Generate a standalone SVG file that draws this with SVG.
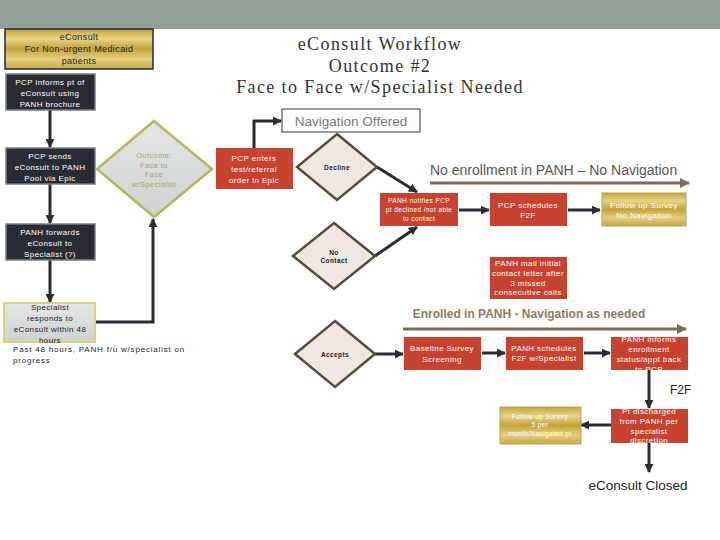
<svg xmlns="http://www.w3.org/2000/svg" width="720" height="540" viewBox="0 0 720 540">
<defs>
<linearGradient id="gold" x1="0" y1="0" x2="0" y2="1">
<stop offset="0" stop-color="#C7A640"/><stop offset="0.25" stop-color="#E6D385"/><stop offset="0.5" stop-color="#C4A33B"/><stop offset="0.75" stop-color="#E4D07F"/><stop offset="1" stop-color="#C8A944"/>
</linearGradient>
<linearGradient id="gray" x1="0" y1="0" x2="0" y2="1">
<stop offset="0" stop-color="#E4E7E5"/><stop offset="1" stop-color="#CDD3D0"/>
</linearGradient>
<marker id="ah" viewBox="0 0 10 10" refX="9" refY="5" markerWidth="9" markerHeight="9" markerUnits="userSpaceOnUse" orient="auto">
<path d="M0,0 L10,5 L0,10 z" fill="#2A2C33"/>
</marker>
<marker id="bh" viewBox="0 0 10 10" refX="9" refY="5" markerWidth="10" markerHeight="10" markerUnits="userSpaceOnUse" orient="auto">
<path d="M0,0 L10,5 L0,10 z" fill="#7D6B55"/>
</marker>
</defs>
<style>
.dark{fill:#2A2C33;stroke:#7A7F86;stroke-width:1.5}
.red{fill:#C8432F}
.goldb{fill:url(#gold);stroke:#B8A850;stroke-width:1}
.dia{fill:#EEE8E0;stroke:#5B4A38;stroke-width:2.5}
.w{font-family:"Liberation Sans",Arial,sans-serif;fill:#fff;text-anchor:middle;letter-spacing:0.4px}
.k{font-family:"Liberation Sans",Arial,sans-serif;fill:#222;text-anchor:middle;letter-spacing:0.4px}
.s9{font-size:9px}
.s8{font-size:8px}
.s6{font-size:6.5px}
.conn{fill:none;stroke:#2A2C33;stroke-width:3}
.band{fill:none;stroke:#7D6B55;stroke-width:3}
</style>
<rect width="720" height="540" fill="#fff"/>
<rect x="0" y="0" width="720" height="29" fill="#919F96"/>

<g id="title" font-family="'Liberation Serif',serif" font-size="18" fill="#333" text-anchor="middle" letter-spacing="1.4">
<text x="380" y="50">eConsult Workflow</text>
<text x="380" y="72">Outcome #2</text>
<text x="380" y="93">Face to Face w/Specialist Needed</text>
</g>

<g id="connectors">
<path class="conn" d="M50,110 V147" marker-end="url(#ah)"/>
<path class="conn" d="M50,184 V223" marker-end="url(#ah)"/>
<path class="conn" d="M50,260 V302" marker-end="url(#ah)"/>
<path class="conn" d="M95,322 H153 V219" marker-end="url(#ah)"/>
<path class="conn" d="M254,148 V121 H281" marker-end="url(#ah)"/>
<path class="conn" d="M377,167 L417,192" marker-end="url(#ah)"/>
<path class="conn" d="M375,256 L417,227" marker-end="url(#ah)"/>
<path class="conn" d="M459,210 H489" marker-end="url(#ah)"/>
<path class="conn" d="M568,210 H600" marker-end="url(#ah)"/>
<path class="conn" d="M375,354 H403" marker-end="url(#ah)"/>
<path class="conn" d="M482,353 H505" marker-end="url(#ah)"/>
<path class="conn" d="M584,353 H610" marker-end="url(#ah)"/>
<path class="conn" d="M649,370 V408" marker-end="url(#ah)"/>
<path class="conn" d="M611,425 H581" marker-end="url(#ah)"/>
<path class="conn" d="M649,443 V472" marker-end="url(#ah)"/>
<path class="band" d="M430,183 H689" marker-end="url(#bh)"/>
<path class="band" d="M403,329 H686" marker-end="url(#bh)"/>
</g>

<g id="n-econsult">
<rect x="5" y="29" width="148" height="40" fill="url(#gold)" stroke="#1F2A44" stroke-width="1.5"/>
<text class="k s9" x="79" y="40">eConsult</text>
<text class="k s9" x="79" y="52">For Non-urgent Medicaid</text>
<text class="k s9" x="79" y="64">patients</text>
</g>
<g id="n-informs">
<rect class="dark" x="6" y="74" width="89" height="36"/>
<text class="w s8" x="50" y="85">PCP informs pt of</text>
<text class="w s8" x="50" y="96">eConsult using</text>
<text class="w s8" x="50" y="107">PANH brochure</text>
</g>
<g id="n-sends">
<rect class="dark" x="6" y="148" width="89" height="36"/>
<text class="w s8" x="50" y="159">PCP sends</text>
<text class="w s8" x="50" y="170">eConsult to PANH</text>
<text class="w s8" x="50" y="181">Pool via Epic</text>
</g>
<g id="n-forwards">
<rect class="dark" x="6" y="224" width="89" height="36"/>
<text class="w s8" x="50" y="235">PANH forwards</text>
<text class="w s8" x="50" y="246">eConsult to</text>
<text class="w s8" x="50" y="257">Specialist (?)</text>
</g>
<g id="n-responds">
<rect x="4" y="303" width="91" height="39" fill="url(#gray)" stroke="#D8D27A" stroke-width="2"/>
<text class="k s8" x="50" y="310">Specialist</text>
<text class="k s8" x="50" y="321">responds to</text>
<text class="k s8" x="50" y="332">eConsult within 48</text>
<text class="k s8" x="50" y="343">hours</text>
</g>
<g id="n-past48" font-family="'Liberation Sans',Arial,sans-serif" font-size="8" fill="#222" letter-spacing="0.8">
<text x="13" y="352">Past 48 hours, PANH f/u w/specialist on</text>
<text x="13" y="363">progress</text>
</g>
<g id="n-outcome">
<polygon points="154,121 212,169 154,217 97,169" fill="url(#gray)" stroke="#B8B65A" stroke-width="2.5"/>
<g font-family="'Liberation Sans',Arial,sans-serif" font-size="7.5" fill="#A8A46C" text-anchor="middle" letter-spacing="0.4">
<text x="154" y="158">Outcome:</text>
<text x="154" y="168">Face to</text>
<text x="154" y="177">Face</text>
<text x="154" y="187">w/Specialist</text>
</g>
</g>
<g id="n-enters">
<rect class="red" x="216" y="148" width="77" height="41"/>
<text class="w s8" x="254" y="161">PCP enters</text>
<text class="w s8" x="254" y="172">test/referral</text>
<text class="w s8" x="254" y="183">order in Epic</text>
</g>
<g id="n-navoffered">
<rect x="282" y="109" width="138" height="23" fill="#fff" stroke="#333" stroke-width="1"/>
<text x="351" y="126" font-family="'Liberation Sans',Arial,sans-serif" font-size="13.5" fill="#777" text-anchor="middle">Navigation Offered</text>
</g>
<g id="n-decline">
<polygon class="dia" points="337,134 377,167 337,200 297,167"/>
<text class="k" x="337" y="170" font-size="6.5" font-weight="bold">Decline</text>
</g>
<g id="n-nocontact">
<polygon class="dia" points="334,223 375,256 334,289 293,256"/>
<text class="k" x="334" y="255" font-size="6.5" font-weight="bold">No</text>
<text class="k" x="334" y="263" font-size="6.5" font-weight="bold">Contact</text>
</g>
<g id="n-accepts">
<polygon class="dia" points="335,321 375,354 335,387 295,354"/>
<text class="k" x="335" y="357" font-size="6.5" font-weight="bold">Accepts</text>
</g>
<g id="lbl-noenroll">
<text x="430" y="175" font-family="'Liberation Sans',Arial,sans-serif" font-size="14" fill="#555">No enrollment in PANH – No Navigation</text>
</g>
<g id="n-notifies">
<rect class="red" x="380" y="193" width="78" height="33"/>
<text class="w s6" x="419" y="203">PANH notifies PCP</text>
<text class="w s6" x="419" y="212">pt declined /not able</text>
<text class="w s6" x="419" y="221">to contact</text>
</g>
<g id="n-pcpsched">
<rect class="red" x="490" y="193" width="77" height="33"/>
<text class="w s8" x="528" y="208">PCP schedules</text>
<text class="w s8" x="528" y="218">F2F</text>
</g>
<g id="n-fus1">
<rect class="goldb" x="602" y="193" width="84" height="33"/>
<text class="w s8" x="644" y="208">Follow up Survey</text>
<text class="w s8" x="644" y="218">No Navigation</text>
</g>
<g id="n-mail">
<rect class="red" x="490" y="257" width="77" height="42"/>
<text class="w s8" x="528" y="266">PANH mail initial</text>
<text class="w s8" x="528" y="276">contact letter after</text>
<text class="w s8" x="528" y="286">3 missed</text>
<text class="w s8" x="528" y="295">consecutive calls</text>
</g>
<g id="lbl-enrolled">
<text x="529" y="318" font-family="'Liberation Sans',Arial,sans-serif" font-size="12" font-weight="bold" fill="#8A7A60" text-anchor="middle">Enrolled in PANH - Navigation as needed</text>
</g>
<g id="n-baseline">
<rect class="red" x="404" y="337" width="77" height="33"/>
<text class="w s8" x="442" y="351">Baseline Survey</text>
<text class="w s8" x="442" y="362">Screening</text>
</g>
<g id="n-panhsched">
<rect class="red" x="506" y="337" width="77" height="33"/>
<text class="w s8" x="544" y="351">PANH schedules</text>
<text class="w s8" x="544" y="361">F2F w/Specialist</text>
</g>
<g id="n-informs2">
<rect class="red" x="611" y="337" width="77" height="33"/>
<text class="w s8" x="649" y="342">PANH informs</text>
<text class="w s8" x="649" y="352">enrollment</text>
<text class="w s8" x="649" y="362">status/appt back</text>
<text class="w s8" x="649" y="372">to PCP</text>
</g>
<g id="lbl-f2f">
<text x="670" y="394" font-family="'Liberation Sans',Arial,sans-serif" font-size="12" fill="#222">F2F</text>
</g>
<g id="n-discharged">
<rect class="red" x="611" y="409" width="77" height="34"/>
<text class="w s8" x="649" y="414">Pt discharged</text>
<text class="w s8" x="649" y="424">from PANH per</text>
<text class="w s8" x="649" y="434">specialist</text>
<text class="w s8" x="649" y="443">discretion</text>
</g>
<g id="n-fus2">
<rect class="goldb" x="500" y="407" width="81" height="37"/>
<text class="w s6" x="540" y="419">Follow up Survey</text>
<text class="w s6" x="540" y="427">5 per</text>
<text class="w s6" x="540" y="436">month/Navigated pt</text>
</g>
<g id="n-closed">
<text x="638" y="490" font-family="'Liberation Sans',Arial,sans-serif" font-size="13.5" fill="#222" text-anchor="middle">eConsult Closed</text>
</g>
</svg>
